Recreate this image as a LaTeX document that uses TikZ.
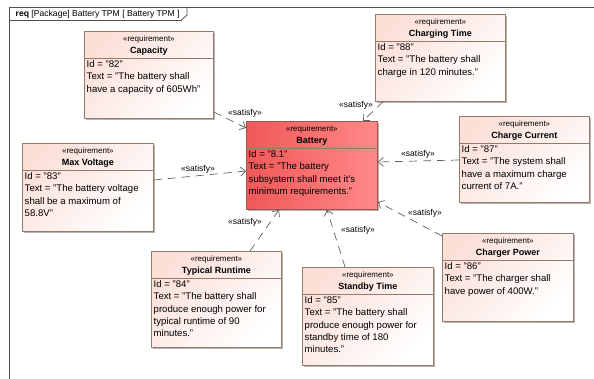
\documentclass[tikz,border=0pt]{standalone}
\usepackage{fontspec}
\setmainfont{Liberation Sans}
\usetikzlibrary{arrows.meta,calc}

\definecolor{framec}{RGB}{80,80,80}
\definecolor{reqborder}{RGB}{150,122,108}
\definecolor{reqtop}{RGB}{251,224,216}
\definecolor{batleft}{RGB}{240,88,88}
\definecolor{batright}{RGB}{255,136,136}
\definecolor{batborder}{RGB}{150,90,80}
\definecolor{linkc}{RGB}{95,95,95}
\definecolor{shadowc}{RGB}{180,180,180}

\tikzset{
  reqnode/.style={draw=reqborder, line width=0.8pt, inner sep=0pt,
    top color=reqtop, bottom color=white, shading angle=45, anchor=north west},
  batnode/.style={draw=batborder, line width=0.8pt, inner sep=0pt,
    left color=batleft, right color=batright, anchor=north west},
  stereo/.style={font=\fontsize{8}{9}\selectfont, inner sep=0pt},
  reqname/.style={font=\fontsize{9}{10}\selectfont\bfseries, inner sep=0pt},
  reqbody/.style={font=\fontsize{9.6}{12.2}\selectfont, align=left,
    inner sep=0pt, anchor=north west},
  satisfy/.style={draw=linkc, line width=0.7pt, dash pattern=on 8pt off 6pt,
    -{Straight Barb[length=5pt,width=9pt]}},
  satlbl/.style={font=\fontsize{8.5}{9}\selectfont, inner sep=0pt},
}

% requirement block: name, style, x, y, width, height, title, body
\newcommand{\reqbox}[8]{%
  \fill[shadowc] (#3+2.2,#4+2.2) rectangle ++(#5,#6);
  \node[#2, minimum width=#5pt, minimum height=#6pt] (#1) at (#3,#4) {};
  \draw[draw=reqborder, line width=0.8pt]
    ($(#1.north west)+(0,27)$) -- ($(#1.north east)+(0,27)$);
  \node[stereo] (#1-st) at ($(#1.north)+(0,8.5)$) {«requirement»};
  \node[reqname] (#1-nm) at ($(#1.north)+(0,20)$) {#7};
  \node[reqbody] (#1-bd) at ($(#1.north west)+(2.5,27.5)$) {\rule{0pt}{9pt}#8};
}

\begin{document}
\begin{tikzpicture}[x=1pt, y=-1pt]
\useasboundingbox (0,0) rectangle (594,379);

% diagram frame and its name tab
\draw[framec, line width=0.8pt] (594,7) -- (9,7) -- (9,379);
\draw[framec, line width=0.8pt] (187,7) -- (187,15) -- (181,20.5) -- (9,20.5);
\node[anchor=base west, font=\fontsize{8.6}{10}\selectfont, inner sep=0pt] (frametitle)
  at (15.5,17) {\textbf{req} [Package] Battery TPM [ Battery TPM ]};

% requirements
\reqbox{cap}{reqnode}{84}{31}{129}{87}{Capacity}
  {Id = "82"\\Text = "The battery shall\\have a capacity of 605Wh"}
\reqbox{chg}{reqnode}{375}{14}{130}{87}{Charging Time}
  {Id = "88"\\Text = "The battery shall\\charge in 120 minutes."}
\reqbox{maxv}{reqnode}{22}{143}{131}{88}{Max Voltage}
  {Id = "83"\\Text = "The battery voltage\\shall be a maximum of\\58.8V"}
\reqbox{bat}{batnode}{246}{121}{131}{88}{Battery}
  {Id = "8.1"\\Text = "The battery\\subsystem shall meet it's\\minimum requirements."}
\reqbox{cur}{reqnode}{459}{116}{130}{86}{Charge Current}
  {Id = "87"\\Text = "The system shall\\have a maximum charge\\current of 7A."}
\reqbox{pow}{reqnode}{442}{233}{131}{88}{Charger Power}
  {Id = "86"\\Text = "The charger shall\\have power of 400W."}
\reqbox{run}{reqnode}{151}{251}{130}{96}{Typical Runtime}
  {Id = "84"\\Text = "The battery shall\\produce enough power for\\typical runtime of 90\\minutes."}
\reqbox{stb}{reqnode}{302}{267}{131}{98}{Standby Time}
  {Id = "85"\\Text = "The battery shall\\produce enough power for\\standby time of 180\\minutes."}

% satisfy relationships
\draw[satisfy] (cap.east |- 0,112) -- (bat.west |- 0,128);
\draw[satisfy] (chg.south -| 383,0) -- (bat.north -| 363,0);
\draw[satisfy] (maxv.east |- 0,180) -- (bat.west |- 0,171);
\draw[satisfy] (cur.west |- 0,160) -- (bat.east |- 0,162);
\draw[satisfy] (pow.west |- 0,236) -- (bat.east |- 0,202);
\draw[satisfy] (run.north -| 250,0) -- (bat.south -| 279,0);
\draw[satisfy] (stb.north -| 345,0) -- (bat.south -| 327,0);

\node[satlbl] (l1) at (245,113) {«satisfy»};
\node[satlbl] (l2) at (356,105) {«satisfy»};
\node[satlbl] (l3) at (198,169) {«satisfy»};
\node[satlbl] (l4) at (418,154) {«satisfy»};
\node[satlbl] (l5) at (425,213) {«satisfy»};
\node[satlbl] (l6) at (245,222) {«satisfy»};
\node[satlbl] (l7) at (358,230) {«satisfy»};
\end{tikzpicture}
\end{document}
